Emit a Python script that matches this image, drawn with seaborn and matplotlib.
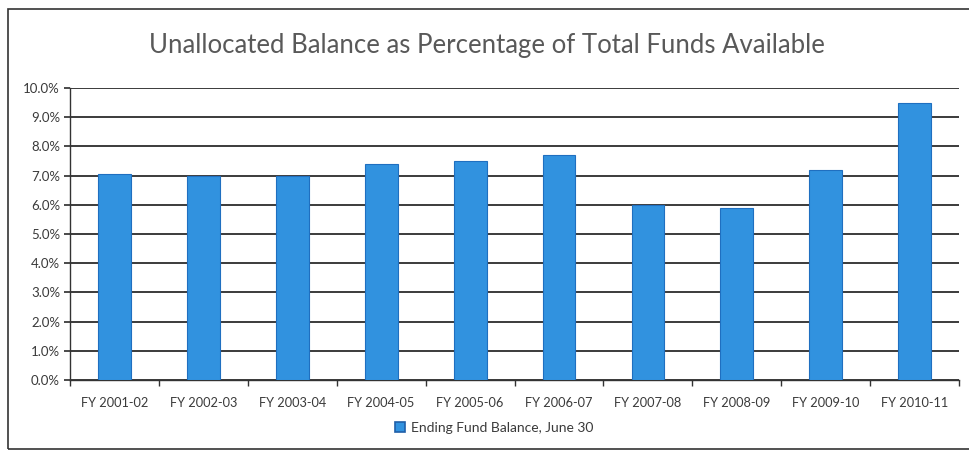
import matplotlib
matplotlib.use("Agg")
import matplotlib.pyplot as plt
import matplotlib.patches as mpatches
from matplotlib.ticker import FuncFormatter, MultipleLocator, FixedLocator
import pandas as pd
import seaborn as sns

years = ["FY 2001-02", "FY 2002-03", "FY 2003-04", "FY 2004-05", "FY 2005-06",
         "FY 2006-07", "FY 2007-08", "FY 2008-09", "FY 2009-10", "FY 2010-11"]
balance_pct = [7.05, 7.0, 7.0, 7.4, 7.5, 7.7, 6.0, 5.9, 7.2, 9.5]
series_name = "Ending Fund Balance, June 30"

df = pd.DataFrame({"year": years, "pct": balance_pct})

sns.set_theme(style="white")
plt.rcParams["font.family"] = ["Lato", "DejaVu Sans"]

bar_color = "#3192DF"
text_color = "#3A3A3A"

fig = plt.figure(figsize=(9.69, 4.54), dpi=100)
ax = fig.add_axes([0.072, 0.163, 0.918, 0.643])

sns.barplot(data=df, x="year", y="pct", color=bar_color, width=0.37,
            saturation=1, edgecolor="#1F6FC0", linewidth=0.8, ax=ax, zorder=3)

ax.set_ylim(0, 10)
ax.set_xlim(-0.5, len(years) - 0.5)
ax.yaxis.set_major_locator(MultipleLocator(1))
ax.yaxis.set_major_formatter(FuncFormatter(lambda v, _: f"{v:.1f}%"))
ax.grid(axis="y", color="#1A1A1A", linewidth=1.2, zorder=0)
ax.set_axisbelow(True)

for side in ["top", "right"]:
    ax.spines[side].set_visible(False)
for side in ["left", "bottom"]:
    ax.spines[side].set_color("#333333")
    ax.spines[side].set_linewidth(1.0)

ax.tick_params(axis="y", left=True, length=4, color="#333333",
               labelsize=9.5, labelcolor=text_color, pad=3)
ax.tick_params(axis="x", bottom=False, labelsize=9.2, labelcolor=text_color, pad=6)
ax.xaxis.set_minor_locator(FixedLocator([i + 0.5 for i in range(-1, len(years))]))
ax.tick_params(axis="x", which="minor", bottom=True, length=4, color="#333333")
ax.set_xlabel("")
ax.set_ylabel("")

fig.text(0.503, 0.90, "Unallocated Balance as Percentage of Total Funds Available",
         ha="center", va="center", fontsize=18.5, color="#595959")

handle = mpatches.Patch(facecolor=bar_color, edgecolor="#1F5FA8", linewidth=1.2,
                        label=series_name)
fig.legend(handles=[handle], loc="center", bbox_to_anchor=(0.51, 0.058),
           frameon=False, fontsize=10, handlelength=0.7, handleheight=0.7,
           handletextpad=0.4, labelcolor=text_color)

frame = mpatches.Rectangle((0.008, 0.01), 1.1, 0.97, transform=fig.transFigure,
                           fill=False, edgecolor="#333333", linewidth=1.2)
fig.patches.append(frame)

fig.savefig("out.png", dpi=100)
